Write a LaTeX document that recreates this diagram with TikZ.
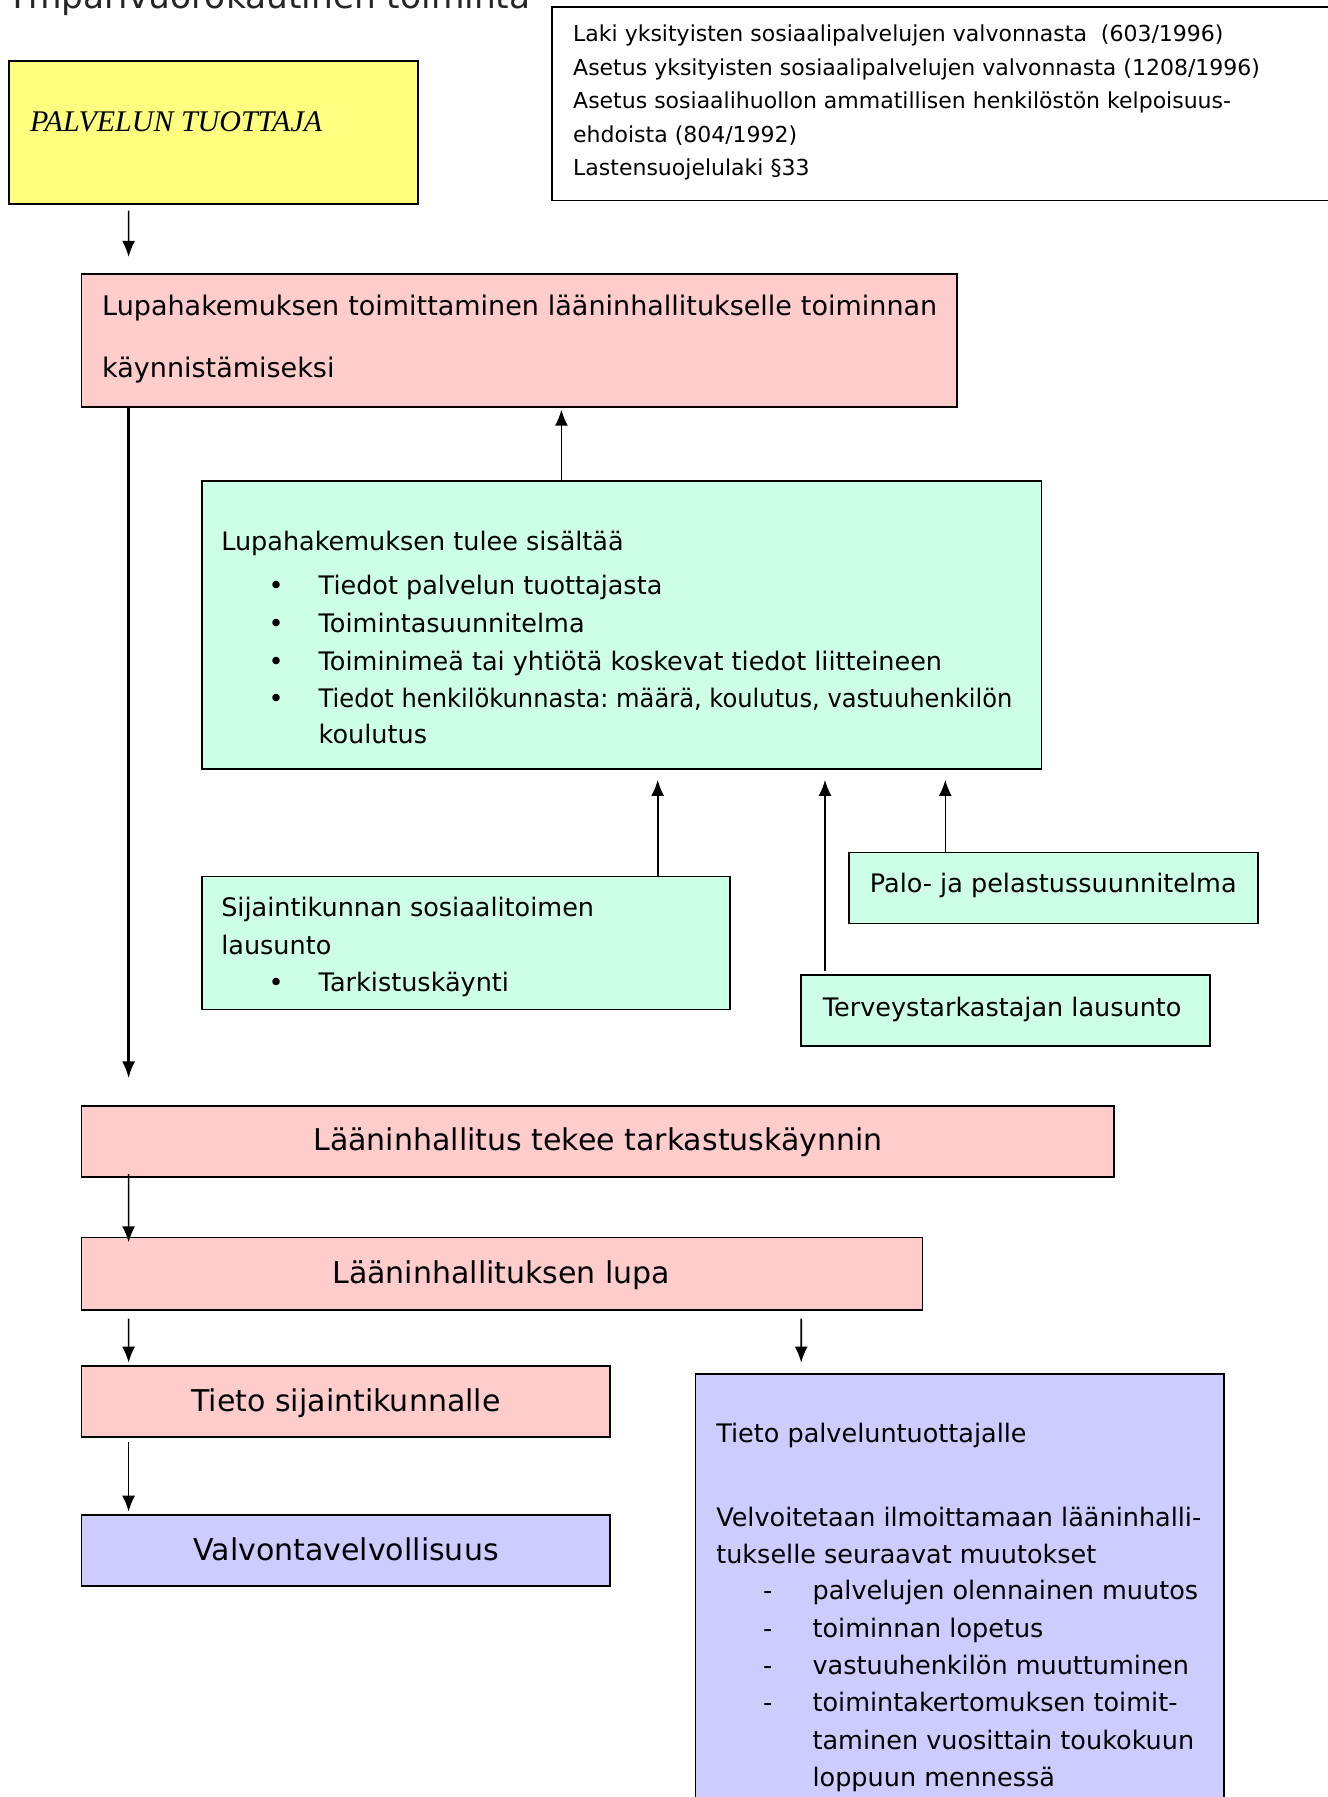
\documentclass[tikz,border=0pt]{standalone}
\usepackage{fontspec}
\setmainfont{DejaVu Sans}
\newfontfamily\serifit{Liberation Serif}
\usetikzlibrary{arrows.meta,calc}
\frenchspacing

\definecolor{boxyellow}{RGB}{255,255,128}
\definecolor{boxpink}{RGB}{255,204,204}
\definecolor{boxgreen}{RGB}{204,255,230}
\definecolor{boxlilac}{RGB}{204,204,255}

\begin{document}
\begin{tikzpicture}[x=1pt,y=-1pt,
  box/.style={draw=black, line width=1.8pt, inner sep=0pt, minimum width=#1},
  box/.default=100pt,
  txt/.style={anchor=base west, inner sep=0pt},
  ctxt/.style={anchor=base, inner sep=0pt},
  flow/.style={line width=1.6pt, -{Latex[length=16pt,width=13pt]}},
  mainflow/.style={line width=2.6pt, -{Latex[length=17pt,width=13pt]}},
  titlefont/.style={font=\fontsize{34.4}{40}\selectfont},
  lawfont/.style={font=\fontsize{22}{26}\selectfont},
  bodyfont/.style={font=\fontsize{25.5}{30}\selectfont},
  leadfont/.style={font=\fontsize{27}{31}\selectfont},
  bigfont/.style={font=\fontsize{30}{35}\selectfont},
]
\useasboundingbox (0,0) rectangle (1328,1797);

% heading, partly above the page edge
\node[txt, titlefont, text=black!85] (title) at (7,8) {Ympärivuorokautinen toiminta};

% boxes
\node[box=409pt, minimum height=143.3pt, fill=boxyellow] (yel) at (213.7,132.35) {};
\node[box=792.7pt, minimum height=193.6pt, fill=white] (law) at (948.65,103.7) {};
\node[box=875.3pt, minimum height=133pt, fill=boxpink] (pink1) at (519.05,340.3) {};
\node[box=839.8pt, minimum height=287.6pt, fill=boxgreen] (green) at (621.6,625) {};
\node[box=528.2pt, minimum height=132.9pt, fill=boxgreen] (sij) at (465.8,942.95) {};
\node[box=409pt, minimum height=71pt, fill=boxgreen] (palo) at (1053.5,888) {};
\node[box=409.1pt, minimum height=71pt, fill=boxgreen] (terv) at (1005.45,1010.6) {};
\node[box=1032.3pt, minimum height=71pt, fill=boxpink] (tekee) at (597.55,1141.2) {};
\node[box=841pt, minimum height=72.1pt, fill=boxpink] (lupa) at (501.9,1273.55) {};
\node[box=528.2pt, minimum height=71pt, fill=boxpink] (tsij) at (345.5,1401.3) {};
\node[box=528.2pt, minimum height=71.1pt, fill=boxlilac] (valv) at (345.5,1550.25) {};
\node[box=528.2pt, minimum height=456.2pt, fill=boxlilac] (lilac) at (959.6,1601.9) {};

% producer
\node[txt, font=\serifit\itshape\fontsize{30}{35}\selectfont] (yelT) at (30,131) {PALVELUN TUOTTAJA};

% legislation
\node[txt, lawfont] (law1) at (573,41.7) {Laki yksityisten sosiaalipalvelujen valvonnasta~~(603/1996)};
\node[txt, lawfont] (law2) at (573,75.2) {Asetus yksityisten sosiaalipalvelujen valvonnasta (1208/1996)};
\node[txt, lawfont] (law3) at (573,108.7) {Asetus sosiaalihuollon ammatillisen henkilöstön kelpoisuus-};
\node[txt, lawfont] (law4) at (573,142.2) {ehdoista (804/1992)};
\node[txt, lawfont] (law5) at (573,175.7) {Lastensuojelulaki §33};

% application
\node[txt, leadfont] (pink1a) at (102,315.4) {\makebox[835pt][s]{Lupahakemuksen toimittaminen lääninhallitukselle toiminnan}};
\node[txt, leadfont] (pink1b) at (102,377.3) {käynnistämiseksi};

% contents of the application
\node[txt, bodyfont] (gT) at (221.1,550.1) {Lupahakemuksen tulee sisältää};
\node[ctxt, bodyfont] (gB1) at (276.1,594.8) {•};
\node[ctxt, bodyfont] (gB2) at (276.1,632.6) {•};
\node[ctxt, bodyfont] (gB3) at (276.1,670.4) {•};
\node[ctxt, bodyfont] (gB4) at (276.1,707.1) {•};
\node[txt, bodyfont] (g1) at (318.5,594.8) {Tiedot palvelun tuottajasta};
\node[txt, bodyfont] (g2) at (318.5,632.6) {Toimintasuunnitelma};
\node[txt, bodyfont] (g3) at (318.5,670.4) {Toiminimeä tai yhtiötä koskevat tiedot liitteineen};
\node[txt, bodyfont] (g4) at (318.5,707.1) {\scalebox{0.948}[1]{Tiedot henkilökunnasta: määrä, koulutus, vastuuhenkilön}};
\node[txt, bodyfont] (g5) at (318.5,743.8) {koulutus};

% statements
\node[txt, bodyfont] (s1) at (221.1,916.8) {Sijaintikunnan sosiaalitoimen};
\node[txt, bodyfont] (s2) at (221.1,954.6) {lausunto};
\node[ctxt, bodyfont] (sB) at (276.1,991.3) {•};
\node[txt, bodyfont] (s3) at (318.5,991.3) {Tarkistuskäynti};
\node[txt, bodyfont] (paloT) at (869.7,892.7) {Palo- ja pelastussuunnitelma};
\node[txt, bodyfont] (tervT) at (822.7,1016.5) {Terveystarkastajan lausunto};

% decision chain
\node[ctxt, bigfont] (tekeeT) at (598.1,1150.8) {Lääninhallitus tekee tarkastuskäynnin};
\node[ctxt, bigfont] (lupaT) at (501.3,1283.8) {Lääninhallituksen lupa};
\node[ctxt, bigfont] (tsijT) at (346,1411) {Tieto sijaintikunnalle};
\node[ctxt, bigfont] (valvT) at (346,1560) {Valvontavelvollisuus};

% notice to the producer
\node[txt, bodyfont] (l0) at (716.1,1442.7) {Tieto palveluntuottajalle};
\node[txt, bodyfont] (l1) at (716.1,1526.3) {Velvoitetaan ilmoittamaan lääninhalli-};
\node[txt, bodyfont] (l2) at (716.1,1563) {tukselle seuraavat muutokset};
\node[ctxt, bodyfont] (lD1) at (767.7,1599.7) {-};
\node[ctxt, bodyfont] (lD2) at (767.7,1637.5) {-};
\node[ctxt, bodyfont] (lD3) at (767.7,1674.1) {-};
\node[ctxt, bodyfont] (lD4) at (767.7,1711.9) {-};
\node[txt, bodyfont] (l3) at (812.4,1599.7) {palvelujen olennainen muutos};
\node[txt, bodyfont] (l4) at (812.4,1637.5) {toiminnan lopetus};
\node[txt, bodyfont] (l5) at (812.4,1674.1) {vastuuhenkilön muuttuminen};
\node[txt, bodyfont] (l6) at (812.4,1711.9) {toimintakertomuksen toimit-};
\node[txt, bodyfont] (l7) at (812.4,1749.8) {taminen vuosittain toukokuun};
\node[txt, bodyfont] (l8) at (812.4,1786.4) {loppuun mennessä};

% connectors
\draw[flow] ($(yel.south west)+(120.3,5.7)$) -- ($(pink1.north west)+(48.1,-16)$);
\draw[flow] ($(green.north)+(-60.2,0)$) -- ($(green.north |- pink1.south)+(-60.2,2)$);
\draw[mainflow] ($(pink1.south west)+(48.1,0)$) -- ($(tekee.north west)+(48.1,-26.4)$);
\draw[flow] ($(sij.north)+(191.9,0)$) -- ($(sij.north |- green.south)+(191.9,10.2)$);
\draw[flow] ($(terv.north)+(-180.45,-3.5)$) -- ($(terv.north |- green.south)+(-180.45,10.2)$);
\draw[flow] ($(palo.north)+(-108.2,0)$) -- ($(palo.north |- green.south)+(-108.2,10.2)$);
\draw[flow] ($(tekee.south west)+(48.1,-3.4)$) -- ($(lupa.north west)+(48.1,5.7)$);
\draw[flow] ($(lupa.south west)+(48.1,8.1)$) -- ($(tsij.north west)+(48.1,-2.3)$);
\draw[flow] ($(lupa.south west)+(720.7,8.1)$) -- ($(lilac.north west)+(106.6,-10.3)$);
\draw[flow] ($(tsij.south west)+(48.1,4.6)$) -- ($(valv.north west)+(48.1,-2.2)$);
\end{tikzpicture}
\end{document}
